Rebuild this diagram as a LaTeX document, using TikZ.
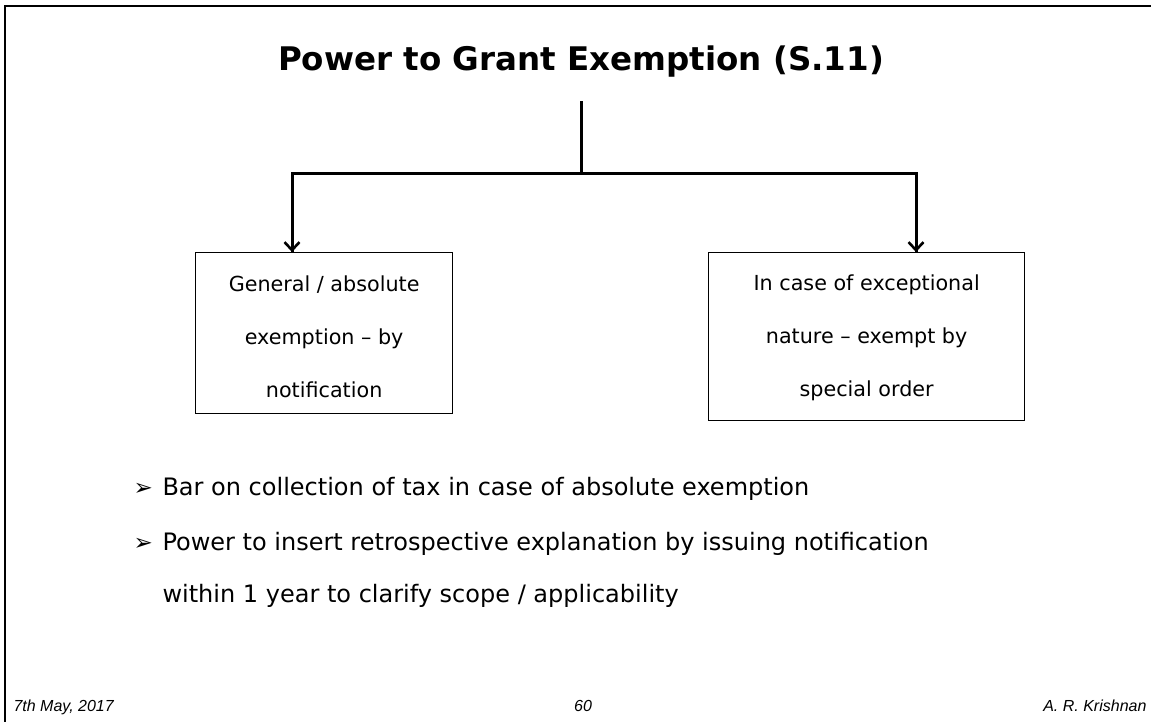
\documentclass[tikz,border=0pt]{standalone}
\usepackage{fontspec}
\setmainfont{DejaVu Sans}
\newfontfamily\footfont{Liberation Sans}
\usetikzlibrary{arrows.meta}
\begin{document}
\begin{tikzpicture}[x=1pt,y=-1pt,
  conn/.style={line width=3pt},
  tip/.style={-{Straight Barb[length=8pt,width=15pt,line width=2.6pt]}},
  box/.style={draw,line width=1.3pt,anchor=north west,inner sep=0pt},
  boxtext/.style={align=center,inner sep=0pt,font=\fontsize{20.7}{53}\selectfont},
  bulletitem/.style={anchor=base west,font=\fontsize{24}{28}\selectfont},
  bulletmark/.style={anchor=base west,font=\fontsize{23}{26}\selectfont},
  foot/.style={font=\footfont\itshape\fontsize{16}{19}\selectfont}]
\useasboundingbox (0,0) rectangle (1151,721);
% slide frame
\draw[line width=2.2pt] (5,740) -- (5,6) -- (1170,6);
% heading
\node[anchor=base,font=\bfseries\fontsize{32.5}{38}\selectfont] (title) at (581,70)
  {Power to Grant Exemption (S.11)};
% branch boxes
\node[box,minimum width=257pt,minimum height=161pt] (left) at (195,252) {};
\node[boxtext] (ltext) at ([yshift=-4pt]left.center)
  {General / absolute\\exemption -- by\\notification};
\node[box,minimum width=316pt,minimum height=168pt] (right) at (708,252) {};
\node[boxtext] (rtext) at ([yshift=-1pt]right.center)
  {In case of exceptional\\nature -- exempt by\\special order};
% connectors
\coordinate (top) at (581,101);
\coordinate (split) at (581,173);
\coordinate (lc) at (292,173);
\coordinate (rc) at (916,173);
\draw[conn] (top) -- (split);
\draw[conn,line join=miter] (split) -- (lc) -- (lc |- left.north)
  [tip] (lc) -- (lc |- left.north);
\draw[conn,line join=miter] (split) -- (rc) -- (rc |- right.north)
  [tip] (rc) -- (rc |- right.north);
% bullet points
\node[bulletmark] (b1) at (130,495) {➢};
\node[bulletitem] (t1) at (159,495) {Bar on collection of tax in case of absolute exemption};
\node[bulletmark] (b2) at (130,550) {➢};
\node[bulletitem] (t2) at (159,550) {Power to insert retrospective explanation by issuing notification};
\node[bulletitem] (t3) at (159,602) {within 1 year to clarify scope / applicability};
% footer
\node[foot,anchor=base west] (date) at (10,711) {7th May, 2017};
\node[foot,anchor=base] (page) at (583,711) {60};
\node[foot,anchor=base east] (author) at (1150,711) {A. R. Krishnan};
\end{tikzpicture}
\end{document}
